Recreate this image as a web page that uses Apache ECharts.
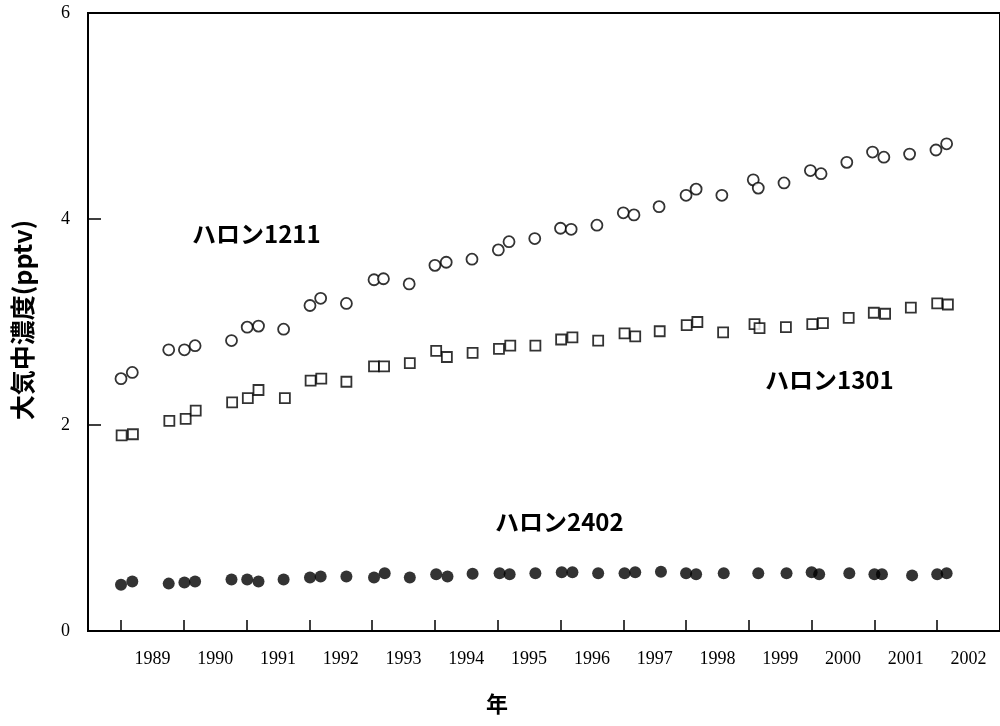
<!DOCTYPE html>
<html>
<head>
<meta charset="utf-8">
<script src="https://cdn.jsdelivr.net/npm/echarts@6/dist/echarts.min.js"></script>
<style>
html,body{margin:0;padding:0;background:#fff;}
#chart{width:1000px;height:726px;}
</style>
</head>
<body>
<div id="chart"></div>
<script>
// ---- data ----
const yearLabels = ['1989','1990','1991','1992','1993','1994','1995','1996','1997','1998','1999','2000','2001','2002'];
const yTicks = [0, 2, 4, 6];

// Halon 1211 (open circles)
const t1211 = [1989.00,1989.18,1989.76,1990.01,1990.18,1990.76,1991.01,1991.19,1991.59,1992.01,1992.18,1992.59,1993.03,1993.18,1993.59,1994.00,1994.18,1994.59,1995.01,1995.18,1995.59,1996.00,1996.17,1996.58,1997.00,1997.17,1997.57,1998.00,1998.16,1998.57,1999.07,1999.15,1999.56,1999.98,2000.15,2000.56,2000.97,2001.15,2001.56,2001.98,2002.15];
const v1211 = [2.45,2.51,2.73,2.73,2.77,2.82,2.95,2.96,2.93,3.16,3.23,3.18,3.41,3.42,3.37,3.55,3.58,3.61,3.70,3.78,3.81,3.91,3.90,3.94,4.06,4.04,4.12,4.23,4.29,4.23,4.38,4.30,4.35,4.47,4.44,4.55,4.65,4.60,4.63,4.67,4.73];

// Halon 1301 (open squares)
const t1301 = [1989.01,1989.19,1989.77,1990.03,1990.19,1990.77,1991.02,1991.19,1991.61,1992.02,1992.19,1992.59,1993.03,1993.19,1993.60,1994.02,1994.19,1994.60,1995.02,1995.20,1995.60,1996.01,1996.19,1996.60,1997.02,1997.19,1997.58,1998.01,1998.18,1998.59,1999.09,1999.17,1999.59,2000.01,2000.18,2000.59,2000.99,2001.17,2001.58,2002.00,2002.17];
const v1301 = [1.90,1.91,2.04,2.06,2.14,2.22,2.26,2.34,2.26,2.43,2.45,2.42,2.57,2.57,2.60,2.72,2.66,2.70,2.74,2.77,2.77,2.83,2.85,2.82,2.89,2.86,2.91,2.97,3.00,2.90,2.98,2.94,2.95,2.98,2.99,3.04,3.09,3.08,3.14,3.18,3.17];

// Halon 2402 (filled dots)
const t2402 = [1989.00,1989.18,1989.76,1990.01,1990.18,1990.76,1991.01,1991.19,1991.59,1992.01,1992.18,1992.59,1993.03,1993.20,1993.60,1994.02,1994.20,1994.60,1995.03,1995.19,1995.60,1996.02,1996.19,1996.60,1997.02,1997.19,1997.60,1998.00,1998.16,1998.60,1999.15,1999.60,2000.00,2000.12,2000.60,2001.00,2001.12,2001.60,2002.00,2002.15];
const v2402 = [0.45,0.48,0.46,0.47,0.48,0.50,0.50,0.48,0.50,0.52,0.53,0.53,0.52,0.56,0.52,0.55,0.53,0.555,0.56,0.55,0.56,0.57,0.57,0.56,0.56,0.57,0.575,0.56,0.55,0.56,0.56,0.56,0.57,0.55,0.56,0.55,0.55,0.54,0.55,0.56];

const seriesNames = ['ハロン1211', 'ハロン1301', 'ハロン2402'];

function pairs(t, v) { return t.map((x, i) => [x, v[i]]); }

const chart = echarts.init(document.getElementById('chart'), null, {renderer: 'canvas'});
const tickFont = '"Liberation Serif", serif';
const cjk = '"Noto Sans CJK JP", "Noto Sans", sans-serif';

chart.setOption({
  animation: false,
  backgroundColor: '#ffffff',
  grid: [
    // data grid: spans the 14 year bands from 1989 to 2003
    {left: 121, top: 13, width: 887.6, height: 618, show: false},
    // frame grid
    {left: 88, top: 13, width: 940, height: 618, show: true, borderColor: '#000', borderWidth: 2, backgroundColor: 'transparent'}
  ],
  xAxis: [
    {type: 'value', gridIndex: 0, min: 1989, max: 2003, show: false, position: 'top'},
    {type: 'category', gridIndex: 0, position: 'bottom', data: yearLabels, boundaryGap: true,
     axisLine: {show: false},
     axisTick: {show: true, inside: true, length: 11, lineStyle: {color: '#000', width: 1.5}},
     axisLabel: {color: '#000', fontFamily: tickFont, fontSize: 18, margin: 19, interval: 0},
     splitLine: {show: false}},
    {type: 'value', gridIndex: 1, show: false}
  ],
  yAxis: [
    {type: 'value', gridIndex: 0, min: 0, max: 6, interval: 2, offset: 33,
     axisLine: {show: false},
     axisTick: {show: true, inside: true, length: 13, lineStyle: {color: '#000', width: 1.5}},
     axisLabel: {color: '#000', fontFamily: tickFont, fontSize: 18, margin: 18,
       formatter: v => yTicks.indexOf(v) >= 0 ? String(v) : ''},
     splitLine: {show: false}},
    {type: 'value', gridIndex: 1, show: false}
  ],
  series: [
    {name: seriesNames[0], type: 'scatter', xAxisIndex: 0, yAxisIndex: 0, clip: false,
     symbol: 'circle', symbolSize: 11,
     itemStyle: {color: '#fff', borderColor: '#000', borderWidth: 1.8},
     data: pairs(t1211, v1211)},
    {name: seriesNames[1], type: 'scatter', xAxisIndex: 0, yAxisIndex: 0, clip: false,
     symbol: 'rect', symbolSize: 10,
     itemStyle: {color: '#fff', borderColor: '#000', borderWidth: 1.8},
     data: pairs(t1301, v1301)},
    {name: seriesNames[2], type: 'scatter', xAxisIndex: 0, yAxisIndex: 0, clip: false,
     symbol: 'circle', symbolSize: 12,
     itemStyle: {color: '#000', borderColor: '#000', borderWidth: 0},
     data: pairs(t2402, v2402)}
  ],
  graphic: [
    {type: 'text', left: 192, top: 222, style: {text: seriesNames[0], font: 'bold 24px ' + cjk, fill: '#000'}},
    {type: 'text', left: 765, top: 368, style: {text: seriesNames[1], font: 'bold 24px ' + cjk, fill: '#000'}},
    {type: 'text', left: 495, top: 510, style: {text: seriesNames[2], font: 'bold 24px ' + cjk, fill: '#000'}},
    {type: 'text', x: 22, y: 320, rotation: Math.PI / 2,
     style: {text: '大気中濃度(pptv)', font: 'bold 25px ' + cjk, fill: '#000', align: 'center', verticalAlign: 'middle'}},
    {type: 'text', x: 497, y: 704,
     style: {text: '年', font: 'bold 22px ' + cjk, fill: '#000', align: 'center', verticalAlign: 'middle'}}
  ]
});
</script>
</body>
</html>
